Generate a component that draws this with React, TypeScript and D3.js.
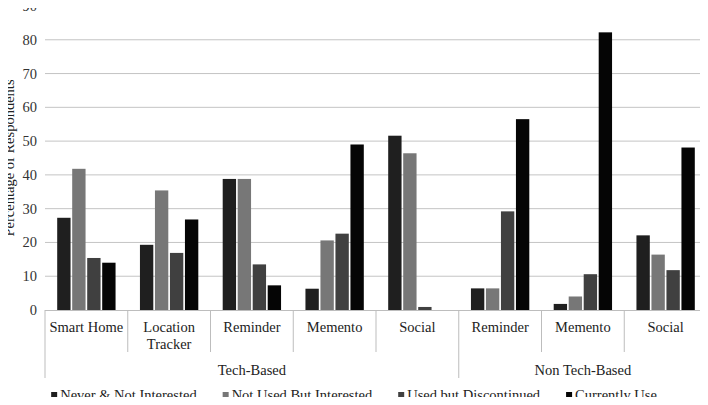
import * as d3 from 'd3';

const categories = ['Smart Home', 'Location Tracker', 'Reminder', 'Memento', 'Social', 'Reminder', 'Memento', 'Social'];
const groups = ['Tech-Based', 'Non Tech-Based'];
const groupSizes = [5, 3];
const seriesNames = ['Never & Not Interested', 'Not Used But Interested', 'Used but Discontinued', 'Currently Use'];
const seriesColors = ['#1f1f1f', '#777777', '#404040', '#050505'];

const neverNotInterested = [27.3, 19.3, 38.8, 6.3, 51.6, 6.4, 1.8, 22.1];
const notUsedButInterested = [41.8, 35.4, 38.8, 20.6, 46.4, 6.4, 4.0, 16.4];
const usedButDiscontinued = [15.4, 16.9, 13.5, 22.6, 0.9, 29.2, 10.6, 11.8];
const currentlyUse = [14.0, 26.8, 7.3, 49.0, 0, 56.5, 82.2, 48.1];
const yTicks = [0, 10, 20, 30, 40, 50, 60, 70, 80, 90];

const seriesValues = [neverNotInterested, notUsedButInterested, usedButDiscontinued, currentlyUse];

const WIDTH = 708;
const HEIGHT = 405;
const FONT_SIZE = 14.5;
const FONT = 'Liberation Serif';

const left = 45;
const right = 707;
const top = 6;
const bottom = 310;

const ctx = typeof document !== 'undefined' ? document.createElement('canvas').getContext('2d') : null;
const measure = (s: string) => {
  if (!ctx) return s.length * 6.5;
  ctx.font = `${FONT_SIZE}px "${FONT}"`;
  return ctx.measureText(s).width;
};

export default function App() {
  const x = d3.scaleBand<number>().domain(d3.range(categories.length)).range([left, right]).padding(0);
  const inner = d3
    .scaleBand<number>()
    .domain(d3.range(seriesNames.length))
    .range([12.2, x.bandwidth() - 12.2])
    .paddingInner(0.11);
  const y = d3.scaleLinear().domain([0, 90]).range([bottom, top]);

  const groupEnds = Array.from(d3.cumsum(groupSizes));
  const groupStarts = [0, ...groupEnds.slice(0, -1)];
  const isGroupEdge = (i: number) => i === 0 || groupEnds.includes(i);
  const labelLines = (name: string) => (name === 'Location Tracker' ? ['Location', 'Tracker'] : [name]);

  // legend layout, centred under the chart
  const marker = 6;
  const markerGap = 3;
  const itemGap = 26;
  const itemWidths = seriesNames.map(n => marker + markerGap + measure(n));
  const totalLegend = d3.sum(itemWidths) + itemGap * (itemWidths.length - 1);
  const legendX: number[] = [];
  let cursor = (WIDTH - totalLegend) / 2;
  itemWidths.forEach(w => {
    legendX.push(cursor);
    cursor += w + itemGap;
  });

  return (
    <div style={{ margin: -8 }}>
      <svg width={WIDTH} height={HEIGHT} fontFamily={FONT} fontSize={FONT_SIZE} style={{ display: 'block' }}>
        <rect width={WIDTH} height={HEIGHT} fill="#fff" />

        {/* gridlines */}
        {yTicks
          .filter(t => t > 0)
          .map(t => (
            <line key={t} x1={left} x2={right} y1={y(t)} y2={y(t)} stroke="#c4c4c4" strokeWidth={1} />
          ))}

        {/* bars */}
        {categories.map((_, i) => (
          <g key={i} transform={`translate(${x(i)},0)`}>
            {seriesValues.map((vals, s) => (
              <rect
                key={s}
                x={inner(s)}
                width={inner.bandwidth()}
                y={y(vals[i])}
                height={y(0) - y(vals[i])}
                fill={seriesColors[s]}
              />
            ))}
          </g>
        ))}

        {/* baseline */}
        <line x1={left} x2={right} y1={bottom + 0.5} y2={bottom + 0.5} stroke="#bdbdbd" strokeWidth={1} />

        {/* category separators */}
        {d3.range(categories.length + 1).map(i => (
          <line
            key={i}
            x1={left + i * x.step()}
            x2={left + i * x.step()}
            y1={bottom}
            y2={isGroupEdge(i) ? 378 : 352}
            stroke="#bdbdbd"
            strokeWidth={1}
          />
        ))}

        {/* y tick labels */}
        {yTicks.map(t => (
          <text key={t} x={37} y={y(t) + 5} textAnchor="end" fill="#333" fontFamily={FONT} fontSize={FONT_SIZE}>
            {t}
          </text>
        ))}

        <text
          transform={`translate(14, ${(top + bottom) / 2}) rotate(-90)`}
          textAnchor="middle"
          fill="#222"
          fontFamily={FONT}
          fontSize={FONT_SIZE}
        >
          Percentage of Respondents
        </text>

        {/* category labels */}
        {categories.map((name, i) => (
          <text key={i} textAnchor="middle" fill="#222" fontFamily={FONT} fontSize={FONT_SIZE}>
            {labelLines(name).map((line, k) => (
              <tspan key={k} x={(x(i) ?? 0) + x.bandwidth() / 2} y={332 + k * 17}>
                {line}
              </tspan>
            ))}
          </text>
        ))}

        {/* group labels */}
        {groups.map((name, g) => (
          <text
            key={name}
            x={left + ((groupStarts[g] + groupEnds[g]) / 2) * x.step()}
            y={375}
            textAnchor="middle"
            fill="#222"
            fontFamily={FONT}
            fontSize={FONT_SIZE}
          >
            {name}
          </text>
        ))}

        {/* legend */}
        {seriesNames.map((name, s) => (
          <g key={name} transform={`translate(${legendX[s]},0)`}>
            <rect width={marker} height={marker} y={392} fill={seriesColors[s]} />
            <text x={marker + markerGap} y={400} fill="#222" fontFamily={FONT} fontSize={FONT_SIZE}>
              {name}
            </text>
          </g>
        ))}
      </svg>
    </div>
  );
}
